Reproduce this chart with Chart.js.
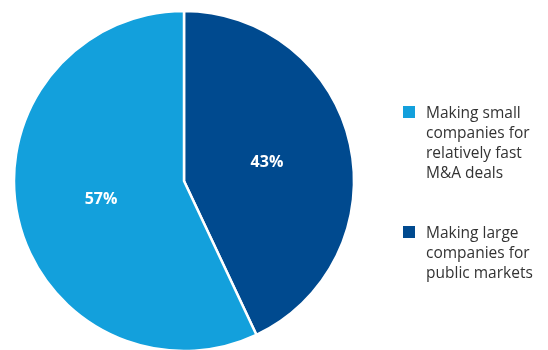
<!DOCTYPE html>
<html>
<head>
<meta charset="utf-8">
<script src="https://cdn.jsdelivr.net/npm/chart.js@4"></script>
<style>
  html, body { margin: 0; padding: 0; background: #fff; }
  #wrap { position: relative; width: 548px; height: 350px; }
  #c { position: absolute; left: 0; top: 0; }
  .legend { position: absolute; left: 403px; font-family: "Open Sans", sans-serif; font-size: 15.5px; line-height: 20px; color: #333333; }
  .item { position: relative; padding-left: 23px; }
  .sw { position: absolute; left: 0; top: 4px; width: 12px; height: 12px; }
</style>
</head>
<body>
<div id="wrap">
  <canvas id="c" width="548" height="350"></canvas>
  <div class="legend" id="legend"></div>
</div>
<script>
const categories = ["Making large companies for public markets", "Making small companies for relatively fast M&A deals"];
const legendLines = [["Making large", "companies for", "public markets"], ["Making small", "companies for", "relatively fast", "M&A deals"]];
const values = [43, 57];
const colors = ["#004a8f", "#13a0dc"];
const legendOrder = [1, 0];
const legendTops = [102, 222];

const labelPlugin = {
  id: 'pctLabels',
  afterDatasetsDraw(chart) {
    const ctx = chart.ctx;
    const meta = chart.getDatasetMeta(0);
    ctx.save();
    ctx.fillStyle = '#ffffff';
    ctx.font = 'bold 16px "Open Sans", sans-serif';
    ctx.textAlign = 'center';
    ctx.textBaseline = 'middle';
    meta.data.forEach((arc, i) => {
      const p = arc.tooltipPosition();
      ctx.fillText(values[i] + '%', p.x, p.y);
    });
    ctx.restore();
  }
};

new Chart(document.getElementById('c'), {
  type: 'pie',
  data: {
    labels: categories,
    datasets: [{
      data: values,
      backgroundColor: colors,
      borderColor: '#ffffff',
      borderWidth: 2.5
    }]
  },
  options: {
    responsive: false,
    animation: false,
    radius: 170,
    layout: { padding: { left: 15, right: 195, top: 13, bottom: 1 } },
    plugins: { legend: { display: false }, tooltip: { enabled: false } }
  },
  plugins: [labelPlugin]
});

const leg = document.getElementById('legend');
legendOrder.forEach((idx, k) => {
  const d = document.createElement('div');
  d.className = 'item';
  d.style.position = 'absolute';
  d.style.top = legendTops[k] + 'px';
  d.style.whiteSpace = 'nowrap';
  d.innerHTML = '<span class="sw" style="background:' + colors[idx] + '"></span>' + legendLines[idx].join('<br>');
  leg.appendChild(d);
});
</script>
</body>
</html>
